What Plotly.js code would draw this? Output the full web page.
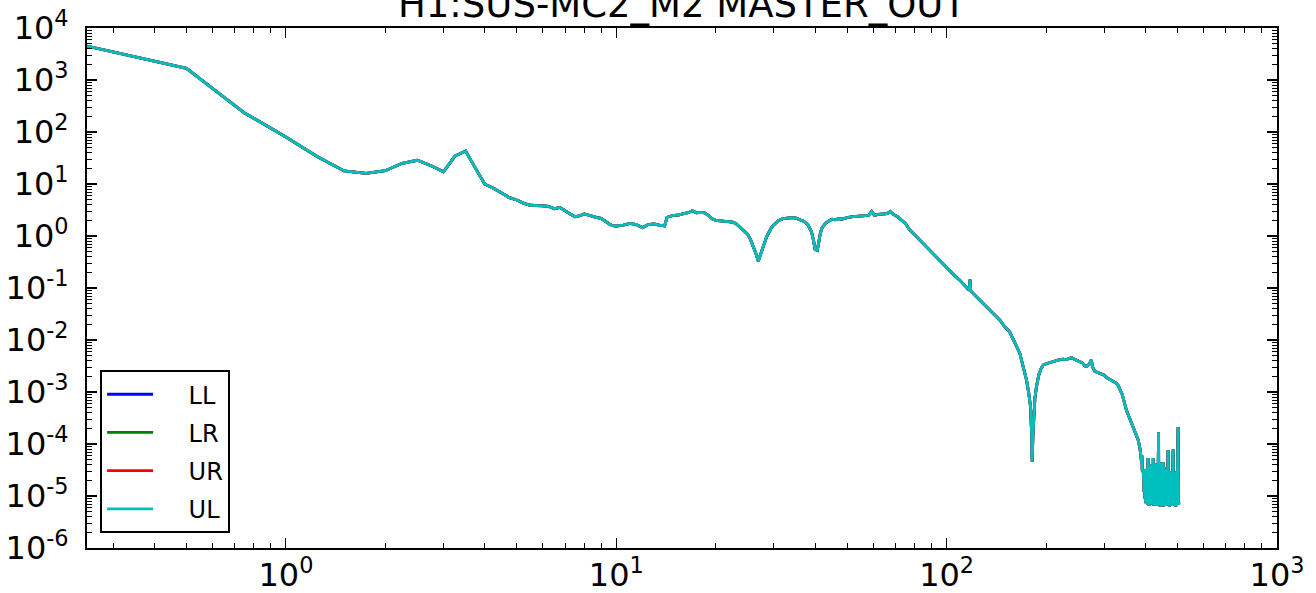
<!DOCTYPE html>
<html>
<head>
<meta charset="utf-8">
<script src="https://cdn.plot.ly/plotly-3.0.1.min.js"></script>
<style>html,body{margin:0;padding:0;background:#fff;}#chart{width:1316px;height:593px;}</style>
</head>
<body>
<div id="chart"></div>
<script>
// Frequency (Hz) and amplitude readings; the four channels coincide within the line width.
const freq = [0.25,0.5,0.75,1.0,1.25,1.5,1.75,2.0,2.25,2.5,2.75,3.0,3.25,3.5,3.75,4.0,4.25,4.5,4.75,5.0,
5.25,5.5,5.75,6.0,6.25,6.5,6.75,7.0,7.25,7.5,7.75,8.0,8.25,8.5,8.75,9.0,9.25,9.5,9.75,10.0,
10.5,11.0,11.5,12.0,12.5,13.0,13.5,14.0,14.25,14.5,15.0,15.5,16.0,16.5,17.0,17.5,18.0,18.5,19.0,19.5,
20.0,20.5,21.0,21.5,22.0,22.5,23.0,23.5,24.0,24.5,25.0,25.5,26.0,26.5,26.9,27.25,27.5,28.0,28.5,29.0,
29.5,30.0,31.0,32.0,33.0,34.0,35.0,36.0,37.0,38.0,39.0,39.5,40.0,40.6,41.0,41.5,42.0,43.0,44.0,45.0,
46.0,47.0,48.0,49.0,50.0,52.0,54.0,56.0,58.0,59.3,60.5,62.0,64.0,66.0,67.5,69.0,71.0,73.0,75.0,77.0,
80.0,83.0,86.0,89.0,92.0,95.6,99.0,102.4,106.0,109.8,114.0,117.0,117.7,118.3,122.0,126.0,130.0,135.0,140.0,145.0,
150.0,155.0,160.0,166.6,170.0,174.5,177.0,179.5,181.0,181.5,182.5,183.6,185.0,187.0,190.0,193.0,196.0,200.0,205.0,210.0,
215.0,220.0,225.0,230.0,235.0,239.0,243.0,248.0,253.0,258.0,262.0,265.0,270.0,274.0,277.0,281.0,290.0,300.0,305.0,315.0,
325.0,330.0,340.0,350.0,360.0,367.0,375.0,380.0,385.0,388.0,389.0,390.0,391.0,393.0,395.0,396.0,397.0,398.0,399.0,400.0,
401.0,402.0,403.0,404.0,405.0,406.0,407.0,408.0,409.0,410.0,412.0,414.0,416.0,418.0,420.0,421.0,422.0,423.0,425.0,427.0,
429.0,431.0,433.0,435.0,437.0,438.0,439.0,441.0,443.0,445.0,447.0,449.0,451.0,452.0,453.0,455.0,457.0,459.0,461.0,463.0,
465.0,467.0,468.0,469.0,471.0,473.0,475.0,477.0,479.0,481.0,483.0,485.0,486.0,488.0,490.0,492.0,494.0,496.0,498.0,500.0,
502.0,503.0,505.0];

const psd = [4500,1680,232,80,33,17.8,16,18,25,28.6,22.5,17.2,34.5,43,20,9.9,8.3,6.8,5.46,4.92,
4.25,3.9,3.78,3.78,3.7,3.35,3.55,3.0,2.65,2.35,2.45,2.65,2.5,2.3,2.25,2.19,1.9,1.72,1.58,1.55,
1.62,1.74,1.66,1.45,1.66,1.70,1.62,1.56,2.3,2.4,2.5,2.55,2.7,2.8,3.05,2.8,2.85,2.8,2.5,2.15,
2.0,1.97,1.95,1.92,1.9,1.85,1.75,1.55,1.4,1.22,1.08,0.85,0.64,0.45,0.33,0.42,0.52,0.7,0.95,1.18,
1.45,1.65,2.0,2.15,2.2,2.25,2.2,2.05,1.9,1.65,1.2,0.85,0.55,0.53,0.8,1.15,1.45,1.75,1.95,2.1,
2.05,2.15,2.1,2.2,2.25,2.35,2.4,2.45,2.5,2.95,2.5,2.6,2.65,2.7,2.95,2.6,2.35,2.05,1.75,1.35,
1.05,0.85,0.67,0.53,0.42,0.33,0.26,0.21,0.17,0.14,0.11,0.09,0.145,0.088,0.072,0.059,0.048,0.038,0.030,0.024,
0.018,0.0145,0.0095,0.0055,0.0033,0.0017,0.0010,0.00052,0.00013,0.000046,0.00015,0.00039,0.00075,0.00126,0.0021,0.0028,0.0033,0.0035,0.0037,0.0038,
0.0040,0.0042,0.0043,0.0042,0.0044,0.0046,0.0043,0.0041,0.0038,0.0036,0.0032,0.0031,0.0034,0.0041,0.0030,0.0025,0.0023,0.0021,0.0019,0.0017,
0.0015,0.00136,0.0009,0.00045,0.00029,0.00021,0.00015,0.00012,0.00008,0.00006,0.000045,0.00006,0.00003,0.000032,0.000022,0.000012,0.000025,0.000009,0.00003,0.0000075,
0.000032,0.000007,0.000028,0.0000072,0.000035,0.0000068,0.000054,0.000007,0.00003,0.0000065,0.000036,0.000007,0.00004,0.0000068,0.000038,0.000007,0.000054,0.0000066,0.000042,0.000007,
0.000036,0.0000064,0.000043,0.0000068,0.000039,0.000166,0.0000065,0.000042,0.0000062,0.000044,0.0000068,0.000038,0.0000065,0.000045,0.0000063,0.000036,0.0000067,0.00003,0.0000064,0.000033,
0.0000068,0.000028,0.000076,0.0000065,0.00003,0.0000062,0.000026,0.0000066,0.000029,0.0000068,0.000027,0.000078,0.0000064,0.000028,0.0000066,0.000026,0.0000063,0.00003,0.0000067,0.000025,
0.00021,0.0000068,0.0000075];

const seriesNames = ['LL','LR','UR','UL'];
const seriesColors = ['#0000ff','#008000','#ff0000','#00bfbf'];
const chartTitle = 'H1:SUS-MC2_M2 MASTER_OUT';
const xTickVals = [1,10,100,1000];
const xTickText = ['10<sup>0</sup>','10<sup>1</sup>','10<sup>2</sup>','10<sup>3</sup>'];
const yTickVals = [1e-6,1e-5,1e-4,1e-3,1e-2,1e-1,1e0,1e1,1e2,1e3,1e4];
const yTickText = ['10<sup>-6</sup>','10<sup>-5</sup>','10<sup>-4</sup>','10<sup>-3</sup>','10<sup>-2</sup>','10<sup>-1</sup>','10<sup>0</sup>','10<sup>1</sup>','10<sup>2</sup>','10<sup>3</sup>','10<sup>4</sup>'];
const xMinor = [0.3,0.4,0.5,0.6,0.7,0.8,0.9,2,3,4,5,6,7,8,9,20,30,40,50,60,70,80,90,200,300,400,500,600,700,800,900];
const yMinor = [];
for (let e = -6; e < 4; e++) { for (let m = 2; m <= 9; m++) { yMinor.push(m * Math.pow(10, e)); } }

const pad = '\u00a0\u00a0\u00a0\u00a0';
const traces = seriesNames.map((n, i) => ({
  x: freq, y: psd, type: 'scatter', mode: 'lines', name: pad + n,
  legendgroup: n,
  line: {color: seriesColors[i], width: 2.8}
}));

const font = 'DejaVu Sans, sans-serif';
const axisCommon = {
  type: 'log', showgrid: false, zeroline: false, showline: true, linecolor: '#000', linewidth: 2,
  mirror: 'allticks', ticks: 'inside', ticklen: 10, tickwidth: 1.2, tickcolor: '#000',
  tickfont: {family: font, size: 32, color: '#000'}, tickmode: 'array'
};

const layout = {
  width: 1316, height: 593,
  margin: {l: 87, r: 39, t: 28, b: 45},
  paper_bgcolor: '#fff', plot_bgcolor: '#fff',
  title: {text: chartTitle, font: {family: font, size: 37, color: '#000'}, x: 0.5, xref: 'paper', xanchor: 'center', yref: 'paper', y: 1, yanchor: 'bottom', pad: {b: 11}},
  xaxis: Object.assign({}, axisCommon, {
    range: [Math.log10(0.25), 3], tickvals: xTickVals, ticktext: xTickText, ticklabelstandoff: -2,
    minor: {ticks: 'inside', ticklen: 5, tickwidth: 1, tickcolor: '#000', tickvals: xMinor, showgrid: false}
  }),
  yaxis: Object.assign({}, axisCommon, {
    range: [-6, 4], tickvals: yTickVals, ticktext: yTickText, ticklabelstandoff: 10,
    minor: {ticks: 'inside', ticklen: 5, tickwidth: 1, tickcolor: '#000', tickvals: yMinor, showgrid: false}
  }),
  showlegend: true,
  legend: {
    x: 0.011, y: 0.342, xanchor: 'left', yanchor: 'top',
    bordercolor: '#000', borderwidth: 2, bgcolor: '#fff',
    font: {family: font, size: 24, color: '#000'},
    traceorder: 'grouped', tracegroupgap: 4, itemwidth: 46
  }
};

Plotly.newPlot('chart', traces, layout, {staticPlot: true});
</script>
</body>
</html>
